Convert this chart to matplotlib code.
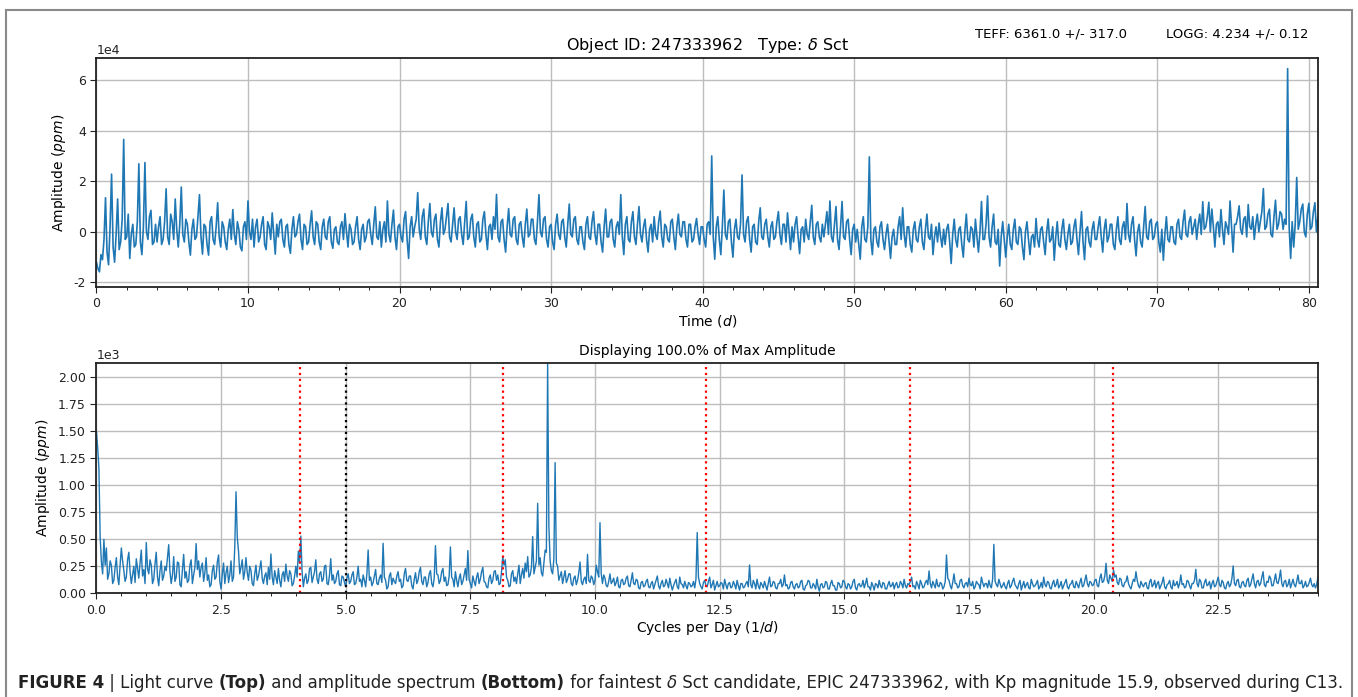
import numpy as np
import matplotlib
matplotlib.use("Agg")
import matplotlib.pyplot as plt
from matplotlib.patches import Rectangle
from matplotlib.ticker import MultipleLocator
from matplotlib.offsetbox import TextArea, HPacker, AnchoredOffsetbox

plt.rcParams['axes.unicode_minus'] = False
plt.rcParams['font.family'] = ['DejaVu Sans']

# ---- light curve, flux in units of 1e3 ppm, one value every 0.1 d ----
time_step = 0.1
flux_kppm = [
    -12, -14.5, -15.8, -9, -11, -3, 13.5, -8, -13, 2, 22.8, -6, -12, -1, 13, -7, -4, 5, 36.5, -3,
    -2, 7, -10.5, -1, 3, -6, -5, 4, 26.9, -4, -9, 2, 27.4, 0, -3, 6, 8.5, -5, -4, 3,
    -4, 2, 6, -5, -3, 4, 17, -2, -5, 7, 4, -3, 13, 1, -6, 3, 17.7, -1, -4, 5,
    3, -4, -9.2, 1, 5, -3, -2, 6, 14.7, -2, -8.8, 3, 2, -5, -9.2, 4, 6, -3, -5, 2,
    11.5, -2, -6, 4, 2, -4, -7, 1, 5, -3, 8.8, -1, -5, 4, 1, -6, -7.5, 2, 4, -3,
    12.2, 0, -3, 5, -6, 2, 5, -4, -2, 3, 6, -5, -7, 4, 2, -3, 7.5, -1, -8.8, 3,
    -2, 4, 5, -3, -6, 2, 3, -5, -8.5, 1, 6, -2, -1, 4, 7, -3, -7, 3, 2, -5,
    -4, 3, 8.3, -2, -5, 4, 3, -4, -7, 2, 5, -2, -3, 4, 6, -4, -6.5, 1, 2, -4,
    -5, 2, 4, -3, 7.2, 0, -6, 3, 1, -5, -4, 2, 6, -3, -7, 1, 3, -4, -2, 4,
    5, -1, -5, 3, 9.9, -2, -3, 4, -6, 1, 4, -4, 12.2, -1, -4, 3, 8.6, -2, -7, 2,
    3, -2, -4, 5, 8, -3, -10.5, 2, 6, -2, 2, 5, 15.5, 1, -3, 6, 9, -2, -5, 4,
    11.2, 0, -2, 5, 7, -3, -6, 4, 9.5, -1, 1, 6, 11.2, -2, -4, 3, 9.5, 0, -3, 5,
    6, -1, -5, 4, 12, -3, -2, 5, 7, -2, -6, 3, 4, -4, -3, 5, 8, -1, -7, 2,
    3, -3, 6, 1, 14.8, -2, -4, 4, 5, -3, -8, 2, 9.2, -1, -2, 5, 6, -3, -5, 3,
    4, -2, -6, 3, 9, -2, -1, 5, 5, -3, -5, 4, 14.7, 0, -2, 5, 6, -3, -6, 2,
    3, -4, -7, 3, 7, -1, -3, 4, 5, -2, -6, 3, 11, -1, -2, 5, 6, -3, -5, 2,
    2, -4, -7, 3, 6, -2, -3, 4, 8, -1, -5, 3, 3, -4, -8, 2, 9, -2, -2, 4,
    5, -3, -6, 2, 4, -1, 14.7, -2, -9, 3, 6, -3, -4, 4, 8, -2, -5, 3, 10, -1,
    -4, 2, 5, -3, -8, 1, 3, -4, 6, -1, -3, 4, 8.2, -2, -6, 3, 2, -3, -4, 4,
    5, -2, -7, 2, 7, -1, -2, 4, 4, -3, -6, 3, 3, -4, -3, 2, 5.3, -1, -5, 2,
    2, -3, -6, 3, 4, -1, 30, -2, -10.8, 2, 6, -3, -9, 2, 16.5, -1, -3, 4, 5, -4,
    -10, 1, 5, -2, -3, 3, 22.5, -1, -4, 4, 6, -3, -8, 2, 3, -4, -5, 4, 9.5, -2,
    -3, 3, 5, -2, -6, 2, 4, -3, -2, 4, 8, -1, -5, 3, 3, -4, 7.5, 0, -7, 2,
    -4, 3, 6, -2, -8.6, 1, 2, -4, 5, -1, -3, 4, 10.5, -2, -5, 3, 4, -2, -4, 3,
    -2, 3, 8, -1, 12.2, -2, -4, 3, 10, -3, -7, 2, 12, -2, -3, 4, 5, -3, -9, 1,
    3, -4, 1, -5, -10.8, 2, 6, -3, -4, 2, 29.6, -3, -9, 1, 2, -4, -6, 2, 4, -3,
    -7, -1, 3, -4, -10.5, -2, 1, -5, -5, 2, 6, -3, 9.5, -1, -6, 2, 2, -5, -8, 1,
    4, -3, -4, 2, 5, -4, -7, 1, 7, -2, -3, 3, -9, -2, 2, -4, 3.5, -2, -6, 1,
    -5, 1, 3, -4, -12.5, -1, 5, -3, -6, 1, 2, -5, -10, 0, 7, -3, -4, 2, 1, -6,
    5, -2, -8, 0, 12, -3, -3, 3, 14.2, -2, -6, 2, 7, -4, -5, 1, -13.5, -2, 4, -3,
    -10, -2, 3, -5, -7, 1, 5, -4, -5, 2, 1, -6, -11, 0, 4, -3, -9, -2, -1, -6,
    5.3, -3, -6, 1, 2, -4, -9, 0, 5.1, -4, -3, 2, -11.2, -2, 4, -5, -6, 1, 5, -3,
    -7, -1, 3, -5, -4, 2, 5, -3, -9, 0, 8, -4, -11, 1, 2, -4, -6, 1, 4, -3,
    -3, 2, 6, -2, -8, 1, 5, -4, -2, 3, 3, -5, -7, 1, 6, -3, -5, 2, 4, -3,
    11.2, -1, -4, 3, 6, -3, -9.5, 0, 3, -4, -6, 2, 10, -2, -3, 4, 5, -3, -2, 3,
    4, -4, -8, 1, -11.2, -1, 6, -3, -4, 2, 2, -4, -5, 3, 5, -2, -3, 4, 8.6, -1,
    -2, 4, 6, -1, 2, 5, -3, 3, 7, -1, 11.9, 1, 2, 6, 11.7, 0, 9, 2, -6, 3,
    4, -2, 8.8, 1, -5, 4, 2, -1, 12.2, 2, -8, 3, 3, 6, 10.3, 1, -1, 5, 6, -2,
    10.8, 2, 1, 6, -3, 3, 7, 0, 4, 8, 17.1, 1, 2, 7, 9, -1, -2, 6, 12.5, 1,
    3, 8, 7, 1, 5, 3, 64.5, 2, -10.5, 4, -6, 3, 21.5, 1, 4, 9, 11, 0, -2, 7,
    11.3, 1, 2, 8, 11.5, 0, 6,
]

# ---- amplitude spectrum in ppm, one value every 0.025 c/d ----
freq_step = 0.025
amp_ppm = [
    1500, 1350, 1160, 520, 290, 180, 500, 260, 420, 130, 180, 300, 260, 90, 120, 240, 330, 150, 80, 260,
    420, 300, 210, 110, 150, 310, 380, 200, 90, 170, 250, 100, 320, 230, 140, 280, 400, 160, 220, 90,
    470, 230, 180, 310, 260, 90, 130, 270, 380, 150, 70, 210, 300, 120, 160, 250, 210, 330, 450, 200,
    90, 170, 340, 110, 150, 290, 280, 80, 60, 220, 360, 140, 200, 100, 120, 260, 310, 90, 170, 240,
    460, 220, 300, 150, 240, 280, 110, 190, 330, 120, 170, 60, 80, 210, 260, 130, 150, 290, 355, 110,
    40, 180, 280, 90, 190, 250, 100, 170, 300, 110, 150, 430, 940, 520, 390, 180, 240, 310, 130, 200,
    330, 190, 120, 250, 210, 90, 70, 180, 260, 120, 160, 230, 300, 140, 90, 160, 190, 80, 240, 130,
    364, 150, 80, 210, 150, 90, 230, 120, 60, 170, 200, 110, 270, 160, 110, 210, 180, 70, 90, 160,
    250, 150, 390, 280, 530, 200, 60, 140, 180, 90, 120, 230, 240, 100, 150, 200, 310, 130, 90, 180,
    200, 110, 130, 250, 260, 90, 80, 170, 320, 120, 170, 90, 110, 180, 210, 80, 70, 160, 150, 100,
    60, 140, 180, 90, 110, 170, 200, 80, 90, 150, 250, 110, 130, 60, 170, 120, 60, 180, 401, 120,
    150, 70, 100, 160, 220, 90, 80, 140, 170, 100, 463, 150, 120, 40, 60, 160, 190, 80, 140, 110,
    90, 160, 200, 110, 130, 50, 70, 180, 230, 120, 110, 160, 160, 70, 40, 130, 190, 90, 120, 200,
    240, 110, 80, 150, 150, 60, 100, 180, 210, 90, 60, 140, 441, 180, 170, 90, 120, 200, 230, 110,
    150, 70, 80, 160, 429, 150, 130, 60, 200, 120, 60, 140, 180, 80, 110, 170, 230, 120, 395, 130,
    90, 50, 160, 110, 70, 150, 190, 90, 130, 200, 240, 110, 100, 60, 50, 140, 170, 90, 120, 200,
    210, 120, 170, 80, 90, 200, 340, 260, 310, 150, 120, 60, 70, 180, 210, 110, 150, 90, 180, 260,
    90, 170, 230, 140, 280, 200, 340, 150, 170, 240, 525, 180, 240, 300, 833, 260, 330, 190, 160, 280,
    400, 380, 2130, 620, 300, 210, 180, 320, 1210, 280, 250, 120, 160, 200, 90, 150, 210, 100, 130, 180,
    180, 90, 70, 140, 160, 80, 120, 190, 290, 110, 80, 130, 150, 90, 361, 120, 100, 160, 140, 80,
    120, 260, 200, 150, 654, 180, 90, 170, 140, 70, 60, 110, 180, 90, 110, 140, 70, 100, 150, 60,
    50, 120, 130, 80, 90, 140, 160, 70, 60, 120, 190, 90, 80, 130, 120, 50, 40, 100, 110, 60,
    70, 110, 130, 60, 50, 90, 110, 40, 80, 120, 160, 70, 40, 90, 120, 60, 70, 130, 90, 50,
    140, 80, 30, 70, 100, 130, 60, 40, 150, 90, 80, 50, 110, 70, 40, 100, 90, 60, 70, 110,
    50, 130, 562, 150, 90, 60, 40, 100, 120, 70, 60, 110, 150, 50, 80, 120, 30, 70, 110, 60,
    70, 100, 90, 40, 130, 80, 40, 90, 100, 50, 60, 110, 80, 40, 120, 70, 30, 90, 90, 50,
    60, 90, 110, 60, 262, 80, 50, 120, 90, 40, 130, 70, 40, 100, 80, 50, 110, 70, 30, 90,
    150, 60, 70, 110, 100, 50, 40, 90, 90, 130, 60, 80, 170, 70, 80, 40, 50, 100, 110, 60,
    40, 80, 90, 50, 60, 110, 120, 40, 30, 70, 80, 120, 110, 50, 50, 90, 70, 40, 130, 60,
    20, 80, 90, 50, 60, 110, 100, 40, 40, 90, 120, 70, 70, 30, 30, 100, 90, 50, 60, 120,
    110, 60, 40, 90, 80, 40, 60, 110, 130, 50, 30, 80, 90, 60, 70, 120, 50, 90, 140, 60,
    60, 30, 100, 70, 30, 90, 80, 50, 120, 70, 50, 100, 90, 40, 40, 80, 110, 60, 70, 100,
    40, 80, 100, 50, 60, 110, 90, 50, 130, 70, 50, 90, 80, 110, 150, 60, 70, 40, 110, 80,
    40, 120, 90, 50, 60, 100, 120, 80, 207, 90, 50, 110, 80, 50, 130, 70, 60, 100, 90, 40,
    60, 110, 355, 140, 120, 70, 40, 100, 180, 90, 90, 50, 60, 120, 130, 70, 50, 90, 100, 60,
    140, 80, 70, 110, 40, 60, 110, 90, 80, 40, 150, 100, 60, 90, 90, 50, 120, 70, 50, 130,
    453, 110, 80, 60, 130, 90, 50, 70, 100, 60, 40, 90, 120, 50, 70, 110, 140, 80, 60, 40,
    90, 120, 30, 70, 110, 50, 80, 100, 50, 40, 130, 90, 60, 70, 90, 120, 40, 60, 100, 50,
    150, 80, 60, 110, 100, 50, 40, 90, 120, 60, 80, 130, 50, 70, 110, 40, 70, 100, 130, 60,
    40, 80, 90, 120, 60, 50, 110, 80, 50, 100, 140, 60, 70, 120, 170, 90, 60, 110, 100, 70,
    80, 120, 130, 70, 60, 140, 180, 100, 110, 160, 278, 120, 90, 170, 140, 110, 216, 150, 170, 100,
    80, 140, 130, 70, 60, 100, 110, 160, 90, 60, 40, 90, 130, 110, 200, 120, 70, 50, 110, 80,
    60, 90, 100, 50, 40, 110, 130, 60, 80, 120, 50, 90, 110, 40, 70, 100, 150, 60, 40, 80,
    90, 120, 60, 40, 120, 70, 80, 110, 50, 90, 170, 80, 90, 50, 60, 120, 110, 70, 40, 90,
    90, 120, 222, 90, 60, 130, 110, 50, 50, 100, 130, 70, 80, 110, 40, 90, 120, 60, 70, 110,
    150, 80, 60, 120, 100, 50, 40, 90, 110, 60, 80, 140, 253, 90, 70, 120, 130, 60, 50, 100,
    110, 70, 60, 120, 140, 60, 80, 130, 180, 90, 50, 110, 120, 70, 90, 150, 200, 80, 60, 110,
    100, 160, 140, 70, 70, 120, 180, 100, 90, 140, 215, 90, 60, 110, 120, 60, 80, 130, 50, 90,
    130, 80, 60, 110, 170, 90, 90, 120, 50, 70, 110, 60, 70, 100, 140, 80, 60, 90, 50, 80,
    150,
]

harmonic_freqs = [4.08, 8.16, 12.23, 16.31, 20.38]
marker_freq = 5.0

object_id = "247333962"
star_type = r"$\delta$ Sct"
teff_text = "TEFF: 6361.0 +/- 317.0"
logg_text = "LOGG: 4.234 +/- 0.12"
caption_parts = [
    ("FIGURE 4", "bold", "normal"),
    (" | Light curve ", "normal", "normal"),
    ("(Top)", "bold", "normal"),
    (" and amplitude spectrum ", "normal", "normal"),
    ("(Bottom)", "bold", "normal"),
    (" for faintest ", "normal", "normal"),
    ("\u03b4", "normal", "italic"),
    (" Sct candidate, EPIC 247333962, with Kp magnitude 15.9, observed during C13.", "normal", "normal"),
]

time = np.arange(len(flux_kppm)) * time_step
flux = np.array(flux_kppm) * 1e3
freq = np.arange(len(amp_ppm)) * freq_step
amp = np.array(amp_ppm, dtype=float)

line_color = '#1f77b4'
grid_kw = dict(color='#bdbdbd', linewidth=1.0)

fig = plt.figure(figsize=(13.58, 6.97), dpi=100)
ax1 = fig.add_axes([0.071, 0.5882, 0.8995, 0.3286])
ax2 = fig.add_axes([0.071, 0.1488, 0.8995, 0.3300])


def style_axes(ax):
    ax.grid(True, **grid_kw)
    ax.set_axisbelow(True)
    for sp in ax.spines.values():
        sp.set_color('#222222')
        sp.set_linewidth(1.3)
    ax.tick_params(labelsize=9, colors='#222222', length=4)
    ax.tick_params(which='minor', length=2.5)


# light curve
ax1.plot(time, flux, color=line_color, linewidth=1.2)
ax1.set_xlim(0, 80.6)
ax1.set_ylim(-2.18e4, 6.87e4)
ax1.set_yticks([-2e4, 0, 2e4, 4e4, 6e4])
ax1.xaxis.set_major_locator(MultipleLocator(10))
ax1.xaxis.set_minor_locator(MultipleLocator(2))
ax1.ticklabel_format(axis='y', style='sci', scilimits=(0, 0))
ax1.set_xlabel("Time ($d$)", fontsize=10, labelpad=2)
ax1.set_ylabel("Amplitude ($ppm$)", fontsize=10)
ax1.set_title(f"Object ID: {object_id}   Type: {star_type}", fontsize=11.5)
style_axes(ax1)
ax1.yaxis.get_offset_text().set_fontsize(9)

fig.text(975 / 1358, 1 - 34 / 697, teff_text, fontsize=9.5, va='center')
fig.text(1166 / 1358, 1 - 34 / 697, logg_text, fontsize=9.5, va='center')

# amplitude spectrum
ax2.plot(freq, amp, color=line_color, linewidth=1.0)
for f in harmonic_freqs:
    ax2.axvline(f, color='red', linestyle=':', linewidth=1.6)
ax2.axvline(marker_freq, color='black', linestyle=':', linewidth=1.6)
ax2.set_xlim(0, 24.5)
ax2.set_ylim(0, amp.max())
ax2.xaxis.set_major_locator(MultipleLocator(2.5))
ax2.xaxis.set_minor_locator(MultipleLocator(0.5))
ax2.yaxis.set_major_locator(MultipleLocator(250))
ax2.ticklabel_format(axis='y', style='sci', scilimits=(0, 0))
ax2.set_xlabel("Cycles per Day (1/$d$)", fontsize=10, labelpad=2)
ax2.set_ylabel("Amplitude ($ppm$)", fontsize=10)
ax2.set_title("Displaying 100.0% of Max Amplitude", fontsize=10)
style_axes(ax2)
ax2.yaxis.get_offset_text().set_fontsize(9)

# outer frame
fig.add_artist(Rectangle((6 / 1358, -0.01), 1346 / 1358, 0.9957, transform=fig.transFigure,
                         fill=False, edgecolor='#8a8a8a', linewidth=1.5))

# caption with mixed weights
boxes = [TextArea(s, textprops=dict(fontsize=12, fontweight=w, fontstyle=st, color='#222222'))
         for s, w, st in caption_parts]
pack = HPacker(children=boxes, align='baseline', pad=0, sep=0)
cap = AnchoredOffsetbox(loc='center left', child=pack, pad=0, borderpad=0, frameon=False,
                        bbox_to_anchor=(18 / 1358, 1 - 683 / 697), bbox_transform=fig.transFigure)
fig.add_artist(cap)

fig.savefig("out.png", dpi=100)
